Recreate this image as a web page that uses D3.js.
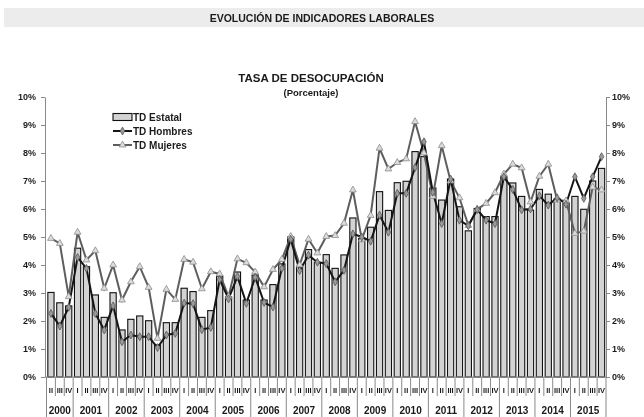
<!DOCTYPE html>
<html><head><meta charset="utf-8">
<script src="https://cdn.jsdelivr.net/npm/d3@7"></script>
<style>
body{margin:0;background:#fff}
svg{display:block;filter:grayscale(100%)}
text{font-family:"Liberation Sans",Arial,sans-serif;font-weight:bold;fill:#1a1a1a}
</style>
</head><body>
<svg id="chart" width="644" height="417"></svg>
<script>
// ---- data ----
const years = ["2000","2001","2002","2003","2004","2005","2006","2007","2008","2009","2010","2011","2012","2013","2014","2015"];
const quarterLabels = ["I","II","III","IV"];
const firstYearQuarters = ["II","III","IV"];   // series starts in 2000 II
const yTicks = [0,1,2,3,4,5,6,7,8,9,10];
const seriesNames = ["TD Estatal","TD Hombres","TD Mujeres"];
const bannerText = "EVOLUCIÓN DE INDICADORES LABORALES";
const chartTitle = "TASA DE DESOCUPACIÓN";
const chartSubtitle = "(Porcentaje)";

const tdEstatal = [
  3.02, 2.65, 2.54,
  4.60, 3.94, 2.93, 2.13,
  3.01, 1.68, 2.06, 2.18,
  2.01, 1.15, 1.94, 1.94,
  3.17, 3.05, 2.13, 2.37,
  3.60, 2.86, 3.75, 2.75,
  3.64, 2.75, 3.30, 4.04,
  5.00, 3.96, 4.55, 4.10,
  4.37, 3.88, 4.36, 5.68,
  4.95, 5.35, 6.62, 5.95,
  6.94, 6.99, 8.05, 7.87,
  6.75, 6.32, 7.07, 6.08,
  5.22, 6.02, 5.73, 5.73,
  7.15, 6.93, 6.45, 5.96,
  6.70, 6.53, 6.36, 6.23,
  6.45, 5.99, 7.00, 7.45
];
const tdHombres = [
  2.27, 1.82, 2.49,
  4.27, 3.88, 2.27, 1.68,
  2.54, 1.26, 1.50, 1.44,
  1.44, 1.05, 1.50, 1.56,
  2.64, 2.62, 1.69, 1.77,
  3.48, 2.79, 3.59, 2.63,
  3.56, 2.66, 2.50, 3.88,
  4.92, 3.80, 4.35, 4.10,
  4.05, 3.40, 3.81, 5.11,
  5.00, 4.85, 5.78, 5.17,
  6.56, 6.56, 7.48, 8.40,
  6.60, 5.48, 7.07, 5.60,
  5.40, 5.98, 5.60, 5.48,
  7.15, 6.70, 5.97, 6.00,
  6.47, 6.14, 6.40, 6.17,
  7.15, 6.38, 7.15, 7.87
];
const tdMujeres = [
  4.95, 4.77, 2.87,
  5.17, 4.18, 4.51, 3.17,
  4.00, 2.75, 3.40, 3.94,
  3.20, 1.38, 3.13, 2.77,
  4.20, 4.10, 3.15, 3.76,
  3.68, 2.87, 4.22, 4.08,
  3.75, 3.22, 3.84, 4.20,
  5.02, 4.00, 4.92, 4.43,
  5.02, 5.05, 5.49, 6.68,
  4.91, 5.77, 8.17, 7.43,
  7.66, 7.79, 9.12, 8.00,
  6.45, 8.26, 7.00, 6.40,
  5.41, 5.99, 6.20, 6.58,
  7.25, 7.60, 7.47, 6.25,
  7.17, 7.60, 6.32, 6.29,
  5.13, 5.21, 6.78, 6.68
];

// ---- categories table built from the arrays ----
const categories = [];
years.forEach((yr, yi) => {
  const qs = yi === 0 ? firstYearQuarters : quarterLabels;
  qs.forEach(q => categories.push({year: yr, q: q}));
});
const rows = categories.map((c, i) => ({
  i, year: c.year, q: c.q, est: tdEstatal[i], hom: tdHombres[i], muj: tdMujeres[i]
}));

// ---- layout ----
const svg = d3.select("#chart");
const axisLeftX = 45, axisRightX = 606, yTop = 97, yBottom = 377;

const x = d3.scaleBand().domain(d3.range(rows.length)).range([46.5, 606])
  .paddingInner(0.3).paddingOuter(0.15);
const y = d3.scaleLinear().domain([0, 10]).range([yBottom, yTop]);
const cx = i => x(i) + x.bandwidth() / 2;
const step = x.step();
const bandStart = i => x(i) - step * x.paddingInner() / 2;

// banner
svg.append("rect").attr("x", 4).attr("y", 8).attr("width", 640).attr("height", 19).attr("fill", "#ececec");
svg.append("text").attr("x", 322).attr("y", 21.5).attr("text-anchor", "middle")
  .style("font-size", "10.5px").text(bannerText);

// titles
svg.append("text").attr("x", 311).attr("y", 82).attr("text-anchor", "middle")
  .style("font-size", "11.5px").text(chartTitle);
svg.append("text").attr("x", 311).attr("y", 96).attr("text-anchor", "middle")
  .style("font-size", "9.5px").text(chartSubtitle);

// axes
const fmt = d => d + "%";
const gL = svg.append("g").attr("transform", `translate(${axisLeftX},0)`)
  .call(d3.axisLeft(y).tickValues(yTicks).tickFormat(fmt).tickSize(4).tickSizeOuter(0));
const gR = svg.append("g").attr("transform", `translate(${axisRightX},0)`)
  .call(d3.axisRight(y).tickValues(yTicks).tickFormat(fmt).tickSize(4).tickSizeOuter(0));
[gL, gR].forEach(g => {
  g.select(".domain").attr("stroke", "#8a8a8a");
  g.selectAll(".tick line").attr("stroke", "#8a8a8a");
  g.selectAll(".tick text").style("font-size", "9px").style("font-family", '"Liberation Sans",Arial,sans-serif')
    .style("font-weight", "bold").attr("fill", "#222");
});
gL.selectAll(".tick text").attr("x", -9);
gR.selectAll(".tick text").attr("x", 6);

// bars
svg.append("g").selectAll("rect").data(rows).join("rect")
  .attr("x", d => x(d.i)).attr("width", x.bandwidth())
  .attr("y", d => y(d.est)).attr("height", d => y(0) - y(d.est))
  .attr("fill", "#d3d3d3").attr("stroke", "#111").attr("stroke-width", 1.1);

// baseline
svg.append("line").attr("x1", axisLeftX).attr("x2", axisRightX).attr("y1", yBottom).attr("y2", yBottom)
  .attr("stroke", "#8a8a8a");

// category ticks and year separators
const boundaries = d3.range(rows.length + 1).map(k => k < rows.length ? bandStart(k) : 606);
svg.append("g").selectAll("line").data(boundaries).join("line")
  .attr("x1", d => d).attr("x2", d => d).attr("y1", yBottom).attr("y2", (d, k) =>
     (k === 0 || k === rows.length || (k < rows.length && rows[k].q === "I")) ? 417 : 396)
  .attr("stroke", "#8a8a8a").attr("stroke-width", 1);

// quarter labels
svg.append("g").selectAll("text").data(rows).join("text")
  .attr("x", d => cx(d.i)).attr("y", 393).attr("text-anchor", "middle")
  .style("font-size", "7.5px").attr("fill", "#111").text(d => d.q);

// year labels
const yearGroups = d3.groups(rows, d => d.year);
svg.append("g").selectAll("text").data(yearGroups).join("text")
  .attr("x", g => (bandStart(g[1][0].i) + (g[1][g[1].length-1].i + 1 < rows.length ? bandStart(g[1][g[1].length-1].i + 1) : 606)) / 2)
  .attr("y", 414).attr("text-anchor", "middle")
  .style("font-size", "10px").text(g => g[0]);

// lines
const lineH = d3.line().x(d => cx(d.i)).y(d => y(d.hom));
const lineM = d3.line().x(d => cx(d.i)).y(d => y(d.muj));
svg.append("path").datum(rows).attr("d", lineM).attr("fill", "none").attr("stroke", "#5e5e5e").attr("stroke-width", 2);
svg.append("path").datum(rows).attr("d", lineH).attr("fill", "none").attr("stroke", "#151515").attr("stroke-width", 2);

const diamond = d3.symbol().type(d3.symbolDiamond).size(18);
const triangle = d3.symbol().type(d3.symbolTriangle).size(20);
svg.append("g").selectAll("path").data(rows).join("path")
  .attr("transform", d => `translate(${cx(d.i)},${y(d.muj)})`).attr("d", triangle)
  .attr("fill", "#dcdcdc").attr("stroke", "#8c8c8c").attr("stroke-width", 0.8);
svg.append("g").selectAll("path").data(rows).join("path")
  .attr("transform", d => `translate(${cx(d.i)},${y(d.hom)})`).attr("d", diamond)
  .attr("fill", "#9a9a9a").attr("stroke", "#555").attr("stroke-width", 0.8);

// legend
const lg = svg.append("g");
const lx = 113, lw = 19, ly = [117, 131, 145];
lg.append("rect").attr("x", lx).attr("y", ly[0] - 3.5).attr("width", lw).attr("height", 7)
  .attr("fill", "#d3d3d3").attr("stroke", "#111").attr("stroke-width", 1.1);
lg.append("line").attr("x1", lx).attr("x2", lx + lw).attr("y1", ly[1]).attr("y2", ly[1]).attr("stroke", "#151515").attr("stroke-width", 2);
lg.append("path").attr("transform", `translate(${lx + lw/2},${ly[1]})`).attr("d", diamond).attr("fill", "#9a9a9a").attr("stroke", "#555").attr("stroke-width", 0.8);
lg.append("line").attr("x1", lx).attr("x2", lx + lw).attr("y1", ly[2]).attr("y2", ly[2]).attr("stroke", "#5e5e5e").attr("stroke-width", 2);
lg.append("path").attr("transform", `translate(${lx + lw/2},${ly[2]})`).attr("d", triangle).attr("fill", "#dcdcdc").attr("stroke", "#8c8c8c").attr("stroke-width", 0.8);
lg.selectAll("text.lbl").data(seriesNames).join("text").attr("class", "lbl")
  .attr("x", lx + lw + 1).attr("y", (d, k) => ly[k] + 3.6).style("font-size", "10px").text(d => d);
</script>
</body></html>
